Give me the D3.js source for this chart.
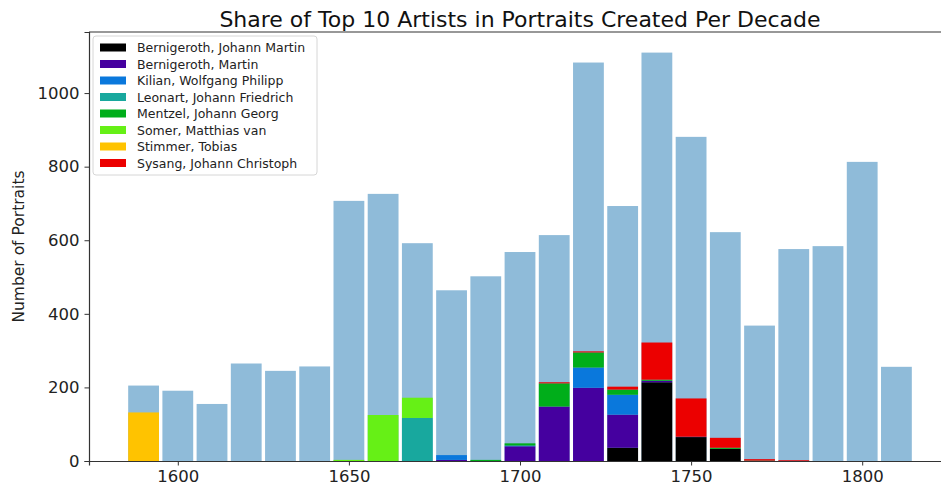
<!DOCTYPE html>
<html>
<head>
<meta charset="utf-8">
<script src="https://cdn.jsdelivr.net/npm/d3@7"></script>
<style>
  body { margin: 0; background: #fff; }
  text { font-family: "DejaVu Sans", sans-serif; }
</style>
</head>
<body>
<div id="chart"></div>
<script>
var width = 941;
var height = 486;
var margin = { top: 32, right: -10, bottom: 25, left: 89 };

// decades and total portraits per decade
var decades = [1590, 1600, 1610, 1620, 1630, 1640, 1650, 1660, 1670, 1680, 1690, 1700,
    1710, 1720, 1730, 1740, 1750, 1760, 1770, 1780, 1790, 1800, 1810];
var totals = [205, 191, 155, 265, 245, 257, 707, 726, 592, 464, 502, 568,
    614, 1083, 693, 1110, 881, 622, 368, 576, 584, 813, 256];

// portraits per artist per decade (same order as decades)
var artists = ["Bernigeroth, Johann Martin", "Bernigeroth, Martin", "Kilian, Wolfgang Philipp",
    "Leonart, Johann Friedrich", "Mentzel, Johann Georg", "Somer, Matthias van",
    "Stimmer, Tobias", "Sysang, Johann Christoph"];
var bernigerothJM = [0, 0, 0, 0, 0, 0, 0, 0, 0, 0, 0, 0, 0, 0, 36, 214, 65, 33, 0, 0, 0, 0, 0];
var bernigerothM  = [0, 0, 0, 0, 0, 0, 0, 0, 0, 3, 0, 40, 148, 199, 90, 4, 1, 0, 0, 0, 0, 0, 0];
var kilian        = [0, 0, 0, 0, 0, 0, 0, 0, 0, 13, 0, 2, 0, 55, 54, 0, 0, 0, 0, 0, 0, 0, 0];
var leonart       = [0, 0, 0, 0, 0, 0, 0, 0, 117, 0, 0, 0, 0, 0, 0, 0, 0, 0, 0, 0, 0, 0, 0];
var mentzel       = [0, 0, 0, 0, 0, 0, 0, 0, 0, 0, 3, 6, 63, 41, 14, 3, 0, 3, 1, 0, 0, 0, 0];
var somer         = [0, 0, 0, 0, 0, 0, 3, 125, 55, 0, 0, 0, 0, 0, 0, 0, 0, 0, 0, 0, 0, 0, 0];
var stimmer       = [132, 0, 0, 0, 0, 0, 0, 0, 0, 0, 0, 0, 0, 0, 0, 0, 0, 0, 0, 0, 0, 0, 0];
var sysang        = [0, 0, 0, 0, 0, 0, 0, 0, 0, 0, 0, 0, 3, 3, 8, 101, 104, 27, 4, 2, 0, 0, 0];
var artistValues = [bernigerothJM, bernigerothM, kilian, leonart, mentzel, somer, stimmer, sysang];

var colors = ["#000000", "#45009f", "#0a78dc", "#18a89e", "#00ae1a", "#66f016", "#ffc300", "#ec0000"];

// rows for d3.stack
var rows = decades.map(function(d, i) {
    var row = { decade: d };
    artists.forEach(function(a, j) { row[a] = artistValues[j][i]; });
    return row;
});
var stackedData = d3.stack().keys(artists)(rows);

var xScale = d3.scaleLinear()
    .domain([1574.05, 1825.95])
    .range([margin.left, width - margin.right]);

var yScale = d3.scaleLinear()
    .domain([0, 1166])
    .range([height - margin.bottom, margin.top]);

var barW = xScale(9) - xScale(0);

var svg = d3.select("#chart")
    .append("svg")
    .attr("width", width)
    .attr("height", height);

// background total bars
svg.append("g")
    .selectAll("rect")
    .data(totals)
    .enter()
    .append("rect")
    .attr("x", function(d, i) { return xScale(decades[i]) - barW / 2; })
    .attr("y", function(d) { return yScale(d); })
    .attr("width", barW)
    .attr("height", function(d) { return yScale(0) - yScale(d); })
    .attr("fill", "#1f77b4")
    .attr("fill-opacity", 0.5);

// stacked artist bars
var groups = svg.selectAll("g.layer")
    .data(stackedData)
    .enter()
    .append("g")
    .attr("class", "layer")
    .attr("fill", function(d, i) { return colors[i]; });

groups.selectAll("rect")
    .data(function(d) { return d.filter(function(p) { return p[1] > p[0]; }); })
    .enter()
    .append("rect")
    .attr("x", function(d) { return xScale(d.data.decade) - barW / 2; })
    .attr("y", function(d) { return yScale(d[1]); })
    .attr("height", function(d) { return yScale(d[0]) - yScale(d[1]); })
    .attr("width", barW);

// axes
var xAxis = d3.axisBottom(xScale)
    .tickValues([1600, 1650, 1700, 1750, 1800])
    .tickFormat(d3.format("d"))
    .tickSizeOuter(0)
    .tickSize(4.5)
    .tickPadding(5);

var yAxis = d3.axisLeft(yScale)
    .tickValues([0, 200, 400, 600, 800, 1000])
    .tickFormat(d3.format("d"))
    .tickSizeOuter(0)
    .tickSize(4.5)
    .tickPadding(5);

var gx = svg.append("g")
    .attr("transform", "translate(0," + (height - margin.bottom) + ")")
    .call(xAxis);
var gy = svg.append("g")
    .attr("transform", "translate(" + margin.left + ",0)")
    .call(yAxis);

[gx, gy].forEach(function(g) {
    g.selectAll("text").style("font-size", "16.5px").attr("fill", "#222");
    g.selectAll("line").attr("stroke", "#333").attr("stroke-width", 1);
    g.select(".domain").attr("stroke", "#333").attr("stroke-width", 1.2);
});

// top spine
svg.append("line")
    .attr("x1", margin.left).attr("x2", width)
    .attr("y1", margin.top).attr("y2", margin.top)
    .attr("stroke", "#333").attr("stroke-width", 1.2);

// title
svg.append("text")
    .attr("x", (xScale.range()[0] + xScale.range()[1]) / 2)
    .attr("y", 27)
    .attr("text-anchor", "middle")
    .style("font-size", "22px")
    .attr("fill", "#111")
    .text("Share of Top 10 Artists in Portraits Created Per Decade");

// y label
svg.append("text")
    .attr("transform", "translate(23.5," + ((margin.top + height - margin.bottom) / 2) + ") rotate(-90)")
    .attr("text-anchor", "middle")
    .style("font-size", "15.5px")
    .attr("fill", "#222")
    .text("Number of Portraits");

// legend
var legend = svg.append("g").attr("transform", "translate(93,36)");
legend.append("rect")
    .attr("width", 224)
    .attr("height", 139)
    .attr("rx", 3)
    .attr("fill", "#fff")
    .attr("fill-opacity", 0.8)
    .attr("stroke", "#d6d6d6");

var items = legend.selectAll("g.item")
    .data(artists)
    .enter()
    .append("g")
    .attr("class", "item")
    .attr("transform", function(d, i) { return "translate(0," + (11.5 + i * 16.5) + ")"; });

items.append("rect")
    .attr("x", 7)
    .attr("y", -4)
    .attr("width", 26)
    .attr("height", 8)
    .attr("fill", function(d, i) { return colors[i]; });

items.append("text")
    .attr("x", 44)
    .attr("y", 4.5)
    .style("font-size", "12.5px")
    .attr("fill", "#222")
    .text(function(d) { return d; });
</script>
</body>
</html>
